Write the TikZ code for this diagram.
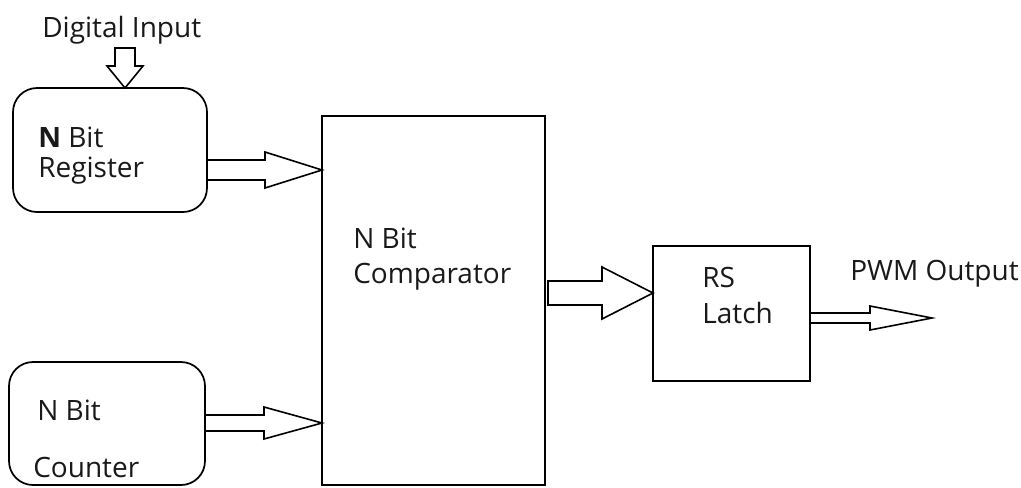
\documentclass[tikz,border=0pt]{standalone}
\usepackage{fontspec}
\setmainfont{Open Sans}
\usetikzlibrary{calc}
\tikzset{
  box/.style={draw, line width=1.3pt, inner sep=0pt, outer sep=0pt},
  lbl/.style={anchor=base west, inner sep=0pt, font=\fontsize{21}{25}\selectfont, text=black!90},
  arrowline/.style={draw, line width=1.2pt, line join=miter, fill=white},
}
% horizontal hollow arrow: #1 start, #2 tip, #3 shaft half, #4 head half, #5 head length
\newcommand\hollowH[5]{%
  \draw[arrowline] ($(#1)+(0,#3)$) -- ($(#2)+(-#5,#3)$) -- ($(#2)+(-#5,#4)$) -- (#2)
    -- ($(#2)+(-#5,-#4)$) -- ($(#2)+(-#5,-#3)$) -- ($(#1)+(0,-#3)$) -- cycle;}
% vertical (downward) hollow arrow
\newcommand\hollowV[5]{%
  \draw[arrowline] ($(#1)+(#3,0)$) -- ($(#2)+(#3,-#5)$) -- ($(#2)+(#4,-#5)$) -- (#2)
    -- ($(#2)+(-#4,-#5)$) -- ($(#2)+(-#3,-#5)$) -- ($(#1)+(-#3,0)$) -- cycle;}
\begin{document}
\begin{tikzpicture}[x=0.75pt, y=-0.75pt]
\useasboundingbox (0,0) rectangle (1021,487);

% boxes
\node[box, rounded corners=18pt, minimum width=194*0.75pt, minimum height=124*0.75pt] (reg) at (110,150) {};
\node[box, rounded corners=18pt, minimum width=196*0.75pt, minimum height=123*0.75pt] (cnt) at (107,423.5) {};
\node[box, minimum width=223*0.75pt, minimum height=369*0.75pt] (comp) at (433.5,300.5) {};
\node[box, minimum width=157*0.75pt, minimum height=135*0.75pt] (latch) at (731.5,313.5) {};

% labels
\node[lbl] (tin) at (42,37) {Digital Input};
\node[lbl] (treg1) at (38,147) {{\bfseries N} Bit};
\node[lbl] (treg2) at (38,177) {Register};
\node[lbl] (tcnt1) at (37,420) {N Bit};
\node[lbl] (tcnt2) at (33,477) {Counter};
\node[lbl] (tcmp1) at (353,248) {N Bit};
\node[lbl] (tcmp2) at (353,283) {Comparator};
\node[lbl] (tl1) at (702,287) {RS};
\node[lbl] (tl2) at (702,323) {Latch};
\node[lbl] (tout) at (850,280) {PWM Output};

% connector end points
\coordinate (inS) at (125,48);
\coordinate (inE) at (reg.north -| inS);
\coordinate (a1s) at (reg.east |- 0,170);
\coordinate (a1e) at (comp.west |- a1s);
\coordinate (a2s) at (cnt.east |- 0,423);
\coordinate (a2e) at (comp.west |- a2s);
\coordinate (a3s) at ($(comp.east |- 0,293)+(3,0)$);
\coordinate (a3e) at (latch.west |- a3s);
\coordinate (a4s) at (latch.east |- 0,318);
\coordinate (a4e) at (932,318);

% arrows
\hollowV{inS}{inE}{10}{18}{22}
\hollowH{a1s}{a1e}{10}{18}{57}
\hollowH{a2s}{a2e}{8}{16}{58}
\hollowH{a3s}{a3e}{12}{26}{51}
\hollowH{a4s}{a4e}{5}{12}{62}
\end{tikzpicture}
\end{document}
